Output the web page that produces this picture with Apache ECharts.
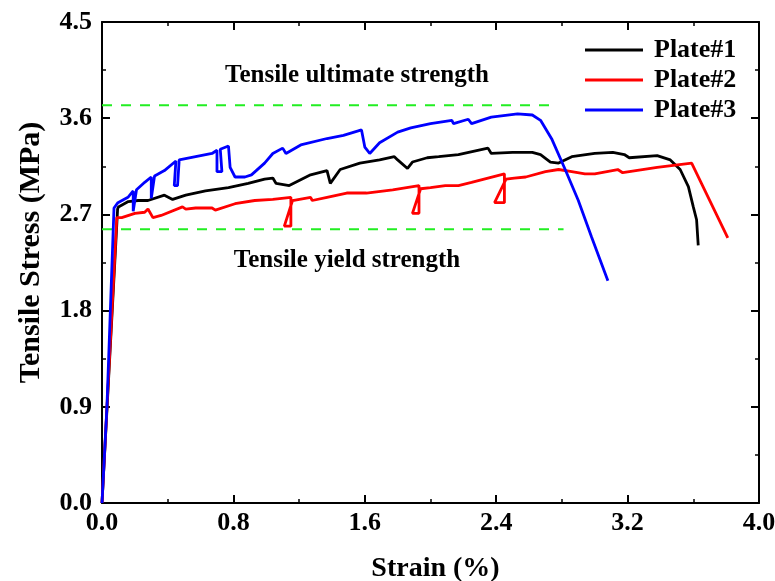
<!DOCTYPE html>
<html>
<head>
<meta charset="utf-8">
<script src="https://cdn.jsdelivr.net/npm/echarts@6/dist/echarts.min.js"></script>
<style>
html,body{margin:0;padding:0;background:#fff;}
#c{width:775px;height:581px;}
</style>
</head>
<body>
<div id="c"></div>
<script>
// ---- Data (strain %, stress MPa) ----
var plate1 = [
 [0,0],[0.095,2.75],[0.10,2.77],[0.16,2.82],[0.22,2.83],[0.28,2.83],[0.38,2.88],[0.43,2.84],[0.51,2.88],
 [0.63,2.92],[0.77,2.95],[0.89,2.99],[0.99,3.03],[1.04,3.04],[1.06,2.99],[1.14,2.97],[1.27,3.07],
 [1.37,3.11],[1.39,2.99],[1.45,3.12],[1.57,3.18],[1.69,3.21],[1.78,3.24],[1.80,3.21],[1.86,3.13],
 [1.89,3.19],[1.98,3.23],[2.05,3.24],[2.17,3.26],[2.35,3.32],[2.37,3.27],[2.50,3.28],[2.62,3.28],
 [2.67,3.26],[2.73,3.19],[2.78,3.18],[2.86,3.24],[3.00,3.27],[3.11,3.28],[3.18,3.26],[3.21,3.23],
 [3.38,3.25],[3.46,3.21],[3.52,3.12],[3.57,2.96],[3.60,2.77],[3.62,2.65],[3.63,2.41]
];
var plate2 = [
 [0,0],[0.09,2.67],[0.12,2.67],[0.20,2.71],[0.26,2.72],[0.28,2.75],[0.31,2.67],[0.36,2.69],[0.49,2.77],
 [0.51,2.75],[0.57,2.76],[0.67,2.76],[0.69,2.74],[0.81,2.80],[0.93,2.83],[1.04,2.84],[1.15,2.86],
 [1.15,2.59],[1.11,2.59],[1.16,2.83],[1.27,2.86],[1.28,2.83],[1.37,2.86],[1.49,2.90],[1.61,2.90],
 [1.77,2.93],[1.93,2.97],[1.93,2.71],[1.89,2.71],[1.94,2.94],[2.00,2.95],[2.09,2.97],[2.17,2.97],
 [2.25,3.00],[2.45,3.08],[2.45,2.81],[2.39,2.81],[2.46,3.03],[2.51,3.04],[2.58,3.05],[2.70,3.10],
 [2.78,3.12],[2.86,3.10],[2.94,3.08],[3.00,3.08],[3.14,3.12],[3.17,3.09],[3.38,3.14],[3.59,3.18],
 [3.81,2.48]
];
var plate3 = [
 [0,0],[0.03,0.9],[0.073,2.76],[0.097,2.81],[0.158,2.86],[0.19,2.92],[0.19,2.73],[0.20,2.73],[0.21,2.93],
 [0.26,3.00],[0.30,3.05],[0.30,2.85],[0.31,2.85],[0.32,3.06],[0.38,3.11],[0.45,3.20],[0.44,2.97],
 [0.46,2.97],[0.47,3.21],[0.57,3.24],[0.67,3.27],[0.70,3.30],[0.70,3.10],[0.73,3.10],[0.72,3.31],
 [0.77,3.34],[0.78,3.14],[0.81,3.05],[0.87,3.05],[0.91,3.07],[0.99,3.18],[1.04,3.27],[1.10,3.32],
 [1.12,3.27],[1.21,3.35],[1.37,3.41],[1.47,3.44],[1.58,3.49],[1.60,3.33],[1.63,3.27],[1.69,3.37],
 [1.80,3.47],[1.88,3.51],[2.00,3.55],[2.13,3.58],[2.14,3.55],[2.23,3.59],[2.25,3.55],[2.37,3.61],
 [2.53,3.64],[2.62,3.63],[2.67,3.58],[2.74,3.40],[2.82,3.12],[2.90,2.83],[2.98,2.49],[3.08,2.08]
];
var ultimateLine = [[0,3.72],[2.77,3.72]];
var yieldLine = [[0,2.56],[2.81,2.56]];
var seriesNames = ['Plate#1','Plate#2','Plate#3'];
var seriesColors = ['#000000','#ff0000','#0000ff'];
var xTicks = {min:0,max:4.0,interval:0.8};
var yTicks = {min:0,max:4.5,interval:0.9};
var annotations = ['Tensile ultimate strength','Tensile yield strength'];

var FONT = '"Liberation Serif","Times New Roman",serif';
var chart = echarts.init(document.getElementById('c'));

function axisBase(extra){
  var o = {
    axisLine:{show:true,onZero:false,lineStyle:{color:'#000',width:2}},
    axisTick:{show:true,inside:true,length:8,lineStyle:{color:'#000',width:2}},
    minorTick:{show:true,splitNumber:2,length:4,lineStyle:{color:'#000',width:1.5}},
    splitLine:{show:false},
    axisLabel:{show:false}
  };
  for (var k in extra) o[k]=extra[k];
  return o;
}
function labelStyle(margin){
  return {show:true,margin:margin,color:'#000',fontFamily:FONT,fontWeight:'bold',fontSize:26,
    formatter:function(v){return v.toFixed(1);}};
}

var datas=[plate1,plate2,plate3];
var series=[];
series.push({name:'yld',type:'line',data:yieldLine,showSymbol:false,symbol:'none',
  lineStyle:{color:'#22ee22',width:2,type:[10,9]},z:2,animation:false});
series.push({name:'ult',type:'line',data:ultimateLine,showSymbol:false,symbol:'none',
  lineStyle:{color:'#22ee22',width:2,type:[10,9]},z:2,animation:false});
for (var i=0;i<3;i++){
  series.push({name:seriesNames[i],type:'line',data:datas[i],showSymbol:false,symbol:'none',
    lineStyle:{color:seriesColors[i],width:2.8},itemStyle:{color:seriesColors[i]},z:3,animation:false});
}

chart.setOption({
  animation:false,
  backgroundColor:'#fff',
  grid:{left:102,right:16,top:22,bottom:78,containLabel:false,outerBoundsMode:'none'},
  xAxis:[
    axisBase({type:'value',position:'bottom',min:xTicks.min,max:xTicks.max,interval:xTicks.interval,
      axisLabel:labelStyle(7),
      name:'Strain (%)',nameLocation:'middle',nameGap:52,
      nameTextStyle:{color:'#000',fontFamily:FONT,fontWeight:'bold',fontSize:28,padding:[0,0,0,10]}}),
    axisBase({type:'value',position:'top',min:xTicks.min,max:xTicks.max,interval:xTicks.interval})
  ],
  yAxis:[
    axisBase({type:'value',position:'left',min:yTicks.min,max:yTicks.max,interval:yTicks.interval,
      axisLabel:labelStyle(10),
      name:'Tensile Stress (MPa)',nameLocation:'middle',nameGap:56,
      nameTextStyle:{color:'#000',fontFamily:FONT,fontWeight:'bold',fontSize:30,padding:[0,0,0,20]}}),
    axisBase({type:'value',position:'right',min:yTicks.min,max:yTicks.max,interval:yTicks.interval})
  ],
  legend:{data:seriesNames,orient:'vertical',left:580,top:32,icon:'rect',itemWidth:58,itemHeight:3,itemGap:4,
    textStyle:{color:'#000',fontFamily:FONT,fontWeight:'bold',fontSize:26,lineHeight:26,padding:[0,0,0,6]}},
  graphic:[
    {type:'text',style:{text:annotations[0],x:357,y:76,textAlign:'center',textVerticalAlign:'middle',
      font:'bold 25px '+FONT,fill:'#000'}},
    {type:'text',style:{text:annotations[1],x:347,y:261,textAlign:'center',textVerticalAlign:'middle',
      font:'bold 25px '+FONT,fill:'#000'}}
  ],
  series:series
});
</script>
</body>
</html>
